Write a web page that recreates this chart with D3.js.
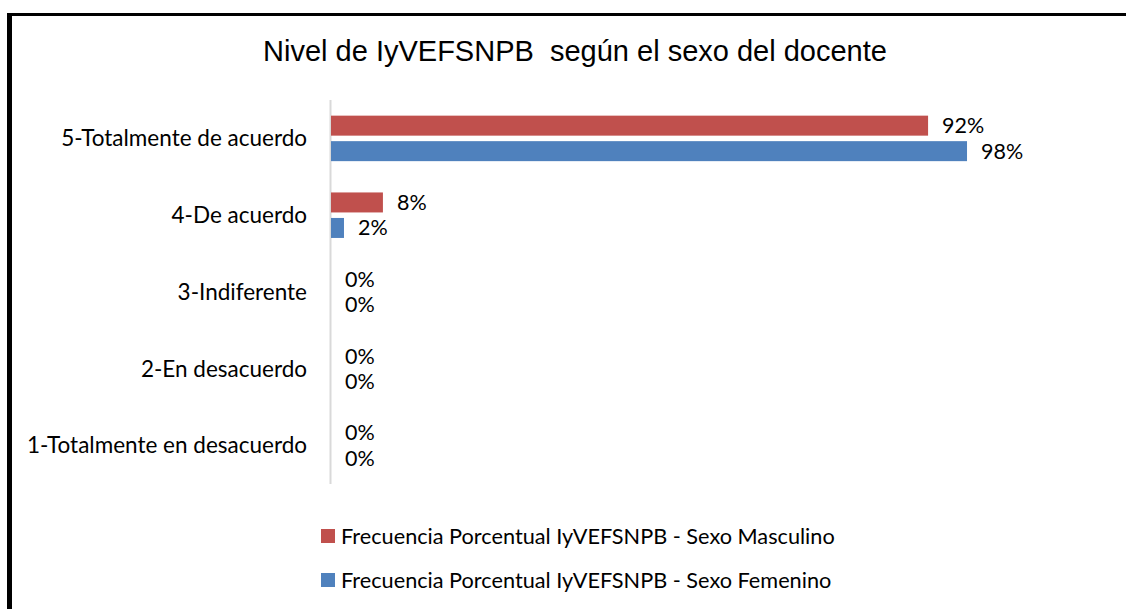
<!DOCTYPE html>
<html>
<head>
<meta charset="utf-8">
<script src="https://cdn.jsdelivr.net/npm/d3@7"></script>
<style>
  body { margin: 0; background: #fff; }
  svg { display: block; }
  .lbl { font-family: Lato, "Open Sans", sans-serif; fill: #000; }
</style>
</head>
<body>
<svg id="chart" width="1126" height="609"></svg>
<script>
// data
let categories = ["5-Totalmente de acuerdo", "4-De acuerdo", "3-Indiferente", "2-En desacuerdo", "1-Totalmente en desacuerdo"];
let masculino = [92, 8, 0, 0, 0];
let femenino = [98, 2, 0, 0, 0];
let seriesNames = ["Frecuencia Porcentual IyVEFSNPB - Sexo Masculino", "Frecuencia Porcentual IyVEFSNPB - Sexo Femenino"];
let colors = ["#C0504D", "#4F81BD"];

let rows = categories.map((c, i) => ({cat: c, values: [masculino[i], femenino[i]]}));

let svg = d3.select("#chart");

// frame (left and top border only visible)
svg.append("line").attr("x1", 9.5).attr("x2", 9.5).attr("y1", 13).attr("y2", 609)
  .attr("stroke", "#000").attr("stroke-width", 5);
svg.append("line").attr("x1", 7).attr("x2", 1126).attr("y1", 14.5).attr("y2", 14.5)
  .attr("stroke", "#000").attr("stroke-width", 3);

// title
svg.append("text")
  .attr("x", 575).attr("y", 61)
  .attr("text-anchor", "middle")
  .style("font-family", "'Liberation Sans', Arial, sans-serif")
  .style("font-size", "29px")
  .style("white-space", "pre")
  .text("Nivel de IyVEFSNPB  según el sexo del docente");

let x_scale = d3.scaleLinear().domain([0, 100]).range([331, 980]);
let y0 = d3.scaleBand().domain(categories).range([100, 484]);
let y1 = d3.scaleBand().domain([0, 1]).range([-22.75, 22.75]).paddingInner(0.216);

// axis line
svg.append("line")
  .attr("x1", 330.5).attr("x2", 330.5)
  .attr("y1", y0.range()[0]).attr("y2", y0.range()[1])
  .attr("stroke", "#d9d9d9").attr("stroke-width", 2);

// category labels
svg.selectAll(".cat")
  .data(categories)
  .join("text")
  .attr("class", "cat lbl")
  .attr("x", 307)
  .attr("y", d => y0(d) + y0.bandwidth() / 2)
  .attr("dy", "0.35em")
  .attr("text-anchor", "end")
  .style("font-size", "22.5px")
  .text(d => d);

let groups = svg.selectAll(".grp")
  .data(rows)
  .join("g")
  .attr("class", "grp")
  .attr("transform", d => `translate(0, ${y0(d.cat) + y0.bandwidth() / 2})`);

groups.selectAll("rect")
  .data(d => d.values)
  .join("rect")
  .attr("x", x_scale(0))
  .attr("y", (d, i) => y1(i))
  .attr("width", d => x_scale(d) - x_scale(0))
  .attr("height", y1.bandwidth())
  .attr("fill", (d, i) => colors[i]);

groups.selectAll(".val")
  .data(d => d.values)
  .join("text")
  .attr("class", "val lbl")
  .attr("x", d => x_scale(d) + 14)
  .attr("y", (d, i) => y1(i) + y1.bandwidth() / 2)
  .attr("dy", "0.35em")
  .style("font-size", "21.5px")
  .text(d => d + "%");

// legend
let legend = svg.selectAll(".leg")
  .data(seriesNames)
  .join("g")
  .attr("class", "leg")
  .attr("transform", (d, i) => `translate(321, ${529 + i * 44})`);

legend.append("rect")
  .attr("width", 14).attr("height", 14)
  .attr("fill", (d, i) => colors[i]);

legend.append("text")
  .attr("class", "lbl")
  .attr("x", 20).attr("y", 7)
  .attr("dy", "0.35em")
  .style("font-size", "21.7px")
  .text(d => d);
</script>
</body>
</html>
